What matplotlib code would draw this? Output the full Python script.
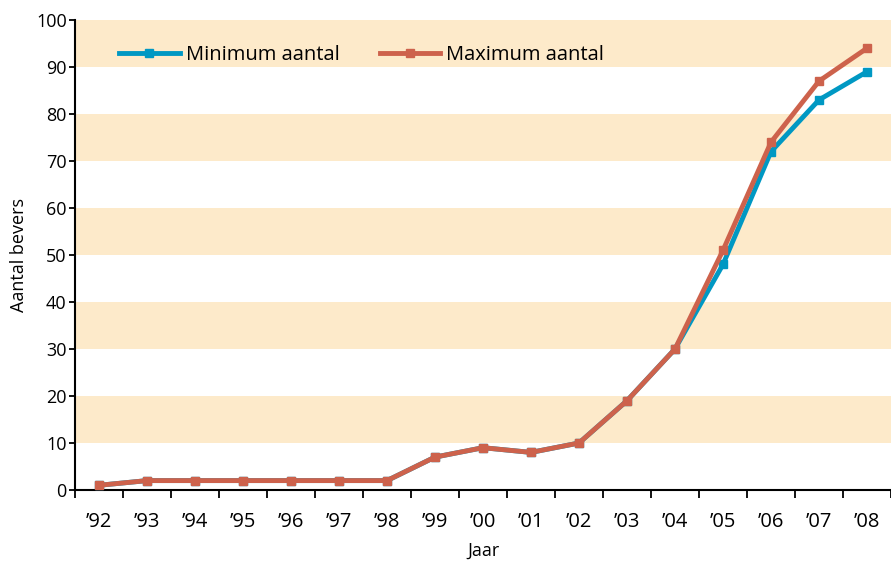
import numpy as np
import matplotlib.pyplot as plt

years = ["’92", "’93", "’94", "’95", "’96", "’97", "’98", "’99", "’00",
         "’01", "’02", "’03", "’04", "’05", "’06", "’07", "’08"]
min_aantal = [1, 2, 2, 2, 2, 2, 2, 7, 9, 8, 10, 19, 30, 48, 72, 83, 89]
max_aantal = [1, 2, 2, 2, 2, 2, 2, 7, 9, 8, 10, 19, 30, 51, 74, 87, 94]

BLUE = "#0098c3"
RED = "#cd624c"
BAND = "#fdeaca"

plt.rcParams["font.family"] = ["Open Sans", "DejaVu Sans"]

fig = plt.figure(figsize=(8.91, 5.62), dpi=100)
ax = fig.add_axes([75 / 891, 72 / 562, 816 / 891, 470 / 562])

x = np.arange(len(years)) + 0.5
for lo in range(10, 100, 20):
    ax.axhspan(lo, lo + 10, color=BAND, lw=0, zorder=0)

ax.plot(x, min_aantal, color=BLUE, lw=3.5, marker="s", ms=6,
        label="Minimum aantal", zorder=3)
ax.plot(x, max_aantal, color=RED, lw=3.5, marker="s", ms=6,
        label="Maximum aantal", zorder=4)

ax.set_xlim(0, len(years))
ax.set_ylim(0, 100)
ax.set_xticks(np.arange(len(years) + 1))
ax.set_xticklabels([])
ax.set_xticks(x, minor=True)
ax.set_xticklabels(years, minor=True, fontsize=14.5)
ax.tick_params(axis="x", which="major", length=6, width=1.3, direction="out")
ax.tick_params(axis="x", which="minor", length=0, pad=16)
ax.set_yticks(range(0, 101, 10))
ax.tick_params(axis="y", length=4, width=1.3, labelsize=13, pad=2)

for s in ["top", "right"]:
    ax.spines[s].set_visible(False)
ax.spines["left"].set_linewidth(1.5)
ax.spines["bottom"].set_linewidth(1.5)

ax.set_ylabel("Aantal bevers", fontsize=13, labelpad=6)
ax.set_xlabel("Jaar", fontsize=13, labelpad=7)

ax.legend(loc="upper left", bbox_to_anchor=(0.032, 0.985), ncol=2, frameon=False,
          fontsize=14.5, handlelength=3.0, columnspacing=2.0, handletextpad=0.3)

fig.savefig("out.png", dpi=100)
